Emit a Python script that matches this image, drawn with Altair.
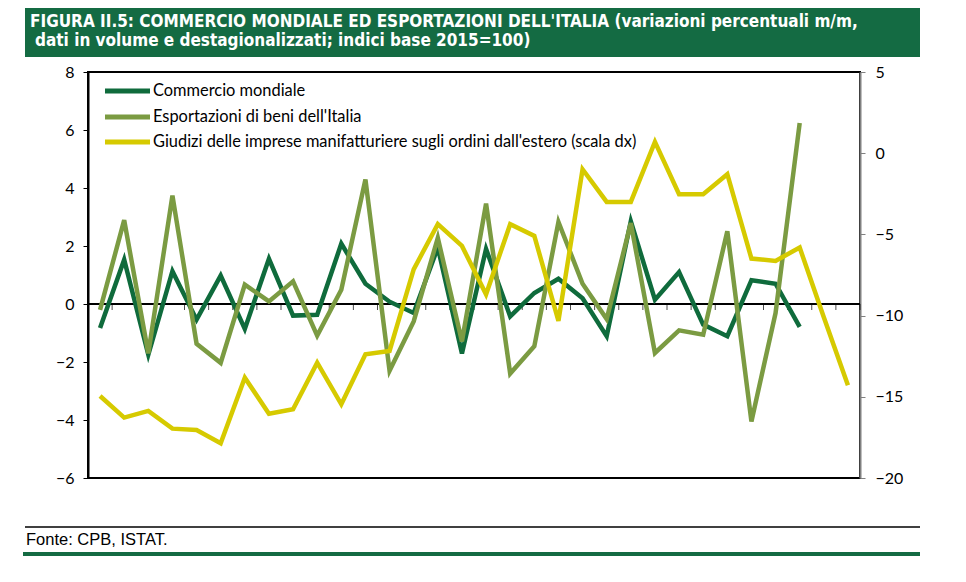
import altair as alt
import pandas as pd

# ---------------- data ----------------
mesi = ["gen", "feb", "mar", "apr", "mag", "giu", "lug", "ago", "set", "ott", "nov", "dic"]
months = [f"{m}-{y}" for y in ("16", "17", "18") for m in mesi][:32]  # gen-16 .. ago-18

commercio = [-0.83, 1.53, -1.75, 1.13, -0.54, 0.98, -0.86, 1.56, -0.40, -0.37,
             2.08, 0.70, 0.08, -0.31, 1.95, -1.71, 1.90, -0.43, 0.38, 0.87,
             0.20, -1.11, 2.85, 0.15, 1.10, -0.71, -1.11, 0.82, 0.70, -0.79]
esportazioni = [-0.20, 2.89, -1.70, 3.74, -1.37, -2.03, 0.67, 0.09, 0.78, -1.09,
                0.49, 4.29, -2.30, -0.60, 2.28, -1.29, 3.46, -2.40, -1.46, 2.83,
                0.70, -0.52, 2.79, -1.69, -0.91, -1.06, 2.51, -4.05, -0.31, 6.24]
giudizi = [-14.95, -16.28, -15.87, -16.96, -17.04, -17.86, -13.82, -16.04, -15.77, -12.90,
           -15.46, -12.38, -12.18, -7.15, -4.37, -5.71, -8.69, -4.37, -5.09, -10.33,
           -0.99, -3.00, -3.00, 0.70, -2.53, -2.53, -1.29, -6.49, -6.63, -5.81,
           -10.10, -14.29]

series_names = ["Commercio mondiale",
                "Esportazioni di beni dell'Italia",
                "Giudizi delle imprese manifatturiere sugli ordini dall'estero (scala dx)"]
series_colors = ["#0f6b3c", "#7b9b42", "#d6ca00"]

title_lines = ["FIGURA II.5: COMMERCIO MONDIALE ED ESPORTAZIONI DELL'ITALIA (variazioni percentuali m/m,",
               "dati in volume e destagionalizzati; indici base 2015=100)"]
source_text = "Fonte: CPB, ISTAT."

left_ticks = list(range(-6, 9, 2))
right_ticks = list(range(-20, 6, 5))
label_idx = list(range(0, 32, 4))

# ---------------- tables ----------------
df_c = pd.DataFrame({"i": range(len(commercio)), "v": commercio})
df_e = pd.DataFrame({"i": range(len(esportazioni)), "v": esportazioni})
df_g = pd.DataFrame({"i": range(len(giudizi)), "v": giudizi})
df_b = pd.DataFrame({"b": [k - 0.5 for k in range(len(months) + 1)], "z": 0})
one = pd.DataFrame({"d": [0]})

W, H = 772, 406
xscale = alt.Scale(domain=[-0.5, len(months) - 0.5], nice=False, zero=False)
yl_scale = alt.Scale(domain=[-6, 8], nice=False, zero=False)
yr_scale = alt.Scale(domain=[-20, 5], nice=False, zero=False)

label_expr = "[" + ",".join(f"'{m}'" for m in months) + "][datum.value]"

AX_FONT = "Lato"
AX_SIZE = 16

x_axis = alt.Axis(values=label_idx, labelExpr=label_expr, domain=False, ticks=False,
                  grid=False, labelFont=AX_FONT, labelFontSize=AX_SIZE, labelColor="#000",
                  labelPadding=11, title=None)
yl_axis = alt.Axis(values=left_ticks, domainColor="#000", domainWidth=2, tickColor="#000",
                   tickSize=5, grid=False, labelFont=AX_FONT, labelFontSize=AX_SIZE,
                   labelColor="#000", labelPadding=9, title=None)
yr_axis = alt.Axis(orient="right", values=right_ticks, domainColor="#808080", domainWidth=2,
                   tickColor="#808080", tickSize=5, grid=False, labelFont=AX_FONT,
                   labelFontSize=AX_SIZE, labelColor="#000", labelPadding=10, title=None)

LW = 4.5

dark = alt.Chart(df_c).mark_line(color=series_colors[0], strokeWidth=LW).encode(
    x=alt.X("i:Q", scale=xscale, axis=x_axis),
    y=alt.Y("v:Q", scale=yl_scale, axis=yl_axis))
light = alt.Chart(df_e).mark_line(color=series_colors[1], strokeWidth=LW).encode(
    x=alt.X("i:Q", scale=xscale, axis=x_axis),
    y=alt.Y("v:Q", scale=yl_scale, axis=yl_axis))
zero_rule = alt.Chart(df_b).mark_rule(color="#000", strokeWidth=1).encode(
    y=alt.Y("z:Q", scale=yl_scale, axis=yl_axis))
zero_ticks = alt.Chart(df_b).mark_tick(color="#000", orient="vertical", size=6,
                                       thickness=1, yOffset=3).encode(
    x=alt.X("b:Q", scale=xscale, axis=x_axis),
    y=alt.Y("z:Q", scale=yl_scale, axis=yl_axis))
greens = alt.layer(zero_rule, zero_ticks, dark, light)

yellow = alt.Chart(df_g).mark_line(color=series_colors[2], strokeWidth=LW).encode(
    x=alt.X("i:Q", scale=xscale, axis=None),
    y=alt.Y("v:Q", scale=yr_scale, axis=yr_axis))

# ---------------- decorations (pixel offsets from plot origin) ----------------
deco = []
deco.append(alt.Chart(one).mark_rect(color="#146b43").encode(
    x=alt.value(-63), x2=alt.value(832), y=alt.value(-67), y2=alt.value(-15)))
deco.append(alt.Chart(one).mark_text(text=title_lines[0], align="left", baseline="alphabetic",
                                     font="DejaVu Sans Condensed", fontWeight="bold",
                                     fontSize=17, color="#ffffff").encode(
    x=alt.value(-58), y=alt.value(-45)))
deco.append(alt.Chart(one).mark_text(text=title_lines[1], align="left", baseline="alphabetic",
                                     font="DejaVu Sans Condensed", fontWeight="bold",
                                     fontSize=17, color="#ffffff").encode(
    x=alt.value(-53), y=alt.value(-26)))
deco.append(alt.Chart(one).mark_rule(color="#000", strokeWidth=1.5).encode(
    x=alt.value(-63), x2=alt.value(832), y=alt.value(455)))
deco.append(alt.Chart(one).mark_text(text=source_text, align="left", baseline="alphabetic",
                                     font="Liberation Sans", fontSize=16.5,
                                     color="#000").encode(
    x=alt.value(-62), y=alt.value(473)))
deco.append(alt.Chart(one).mark_rect(color="#146b43").encode(
    x=alt.value(-65), x2=alt.value(832), y=alt.value(480), y2=alt.value(484)))

leg_y = [19, 45, 70]
for name, col, yy in zip(series_names, series_colors, leg_y):
    deco.append(alt.Chart(one).mark_rule(color=col, strokeWidth=5).encode(
        x=alt.value(17), x2=alt.value(62), y=alt.value(yy)))
    deco.append(alt.Chart(one).mark_text(text=name, align="left", baseline="middle",
                                         font="Lato", fontSize=16.4, color="#000").encode(
        x=alt.value(65), y=alt.value(yy)))

chart = alt.layer(greens, yellow, *deco).resolve_scale(y="independent").properties(
    width=W, height=H,
    autosize=alt.AutoSizeParams(type="none"),
    padding={"left": 80, "top": 64, "right": 98, "bottom": 96},
).configure_view(stroke="#000", strokeWidth=2)

chart.save("out.html", embed_options={"renderer": "svg", "actions": False})
